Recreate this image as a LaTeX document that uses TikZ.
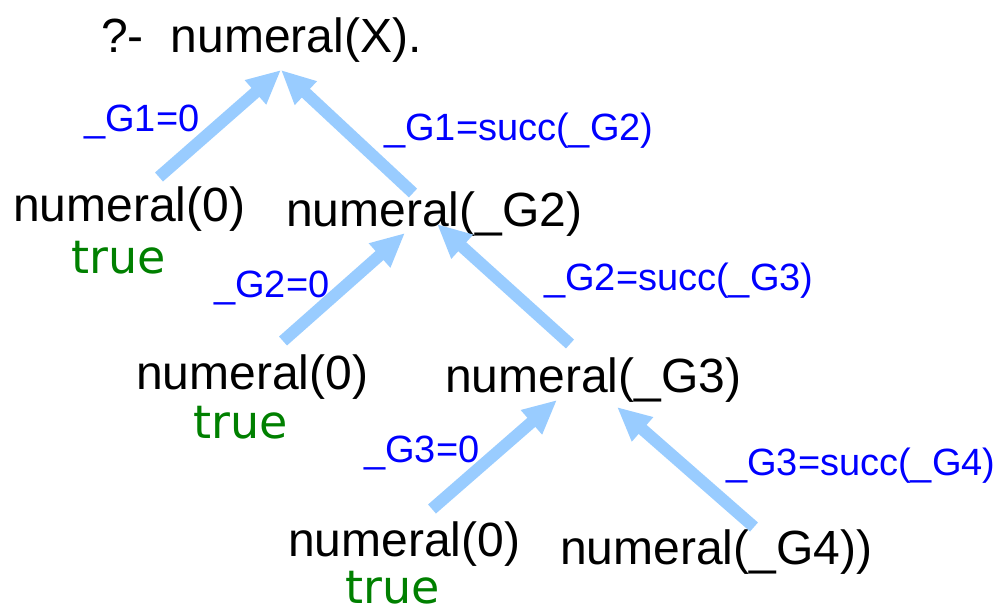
\documentclass[tikz,border=0pt]{standalone}
\usepackage{fontspec}
\setmainfont{Liberation Sans}
\newfontfamily\truefont{DejaVu Sans}
\usetikzlibrary{arrows.meta}
\definecolor{goalblue}{HTML}{0000FF}
\definecolor{okgreen}{HTML}{008000}
\definecolor{linkblue}{HTML}{99CCFF}
\begin{document}
\begin{tikzpicture}[x=1pt,y=-1pt,
  goal/.style={anchor=base west,inner sep=0pt,font=\fontsize{48}{50}\selectfont},
  bind/.style={anchor=base west,inner sep=0pt,text=goalblue,font=\fontsize{38}{40}\selectfont},
  done/.style={anchor=base west,inner sep=0pt,text=okgreen,font=\truefont\fontsize{46}{48}\selectfont},
  link/.style={draw=linkblue,line width=12pt,
    -{Triangle[length=34pt,width=30pt,fill=linkblue]},shorten >=0pt}]
\useasboundingbox (0,0) rectangle (997,607);

% goals of the derivation tree
\node[goal] (q)  at (101,53)  {?-\hspace{27pt}numeral(X).};
\node[goal] (a1) at (13,222)  {numeral(0)};
\node[goal] (b1) at (286,226) {numeral(\_G2)};
\node[goal] (a2) at (136,389) {numeral(0)};
\node[goal] (b2) at (445,392) {numeral(\_G3)};
\node[goal] (a3) at (288,556) {numeral(0)};
\node[goal] (b3) at (560,564) {numeral(\_G4))};

% successful leaves
\node[done] (t1) at (71,273)  {true};
\node[done] (t2) at (193,438) {true};
\node[done] (t3) at (345,603) {true};

% unifications
\node[bind] (u1) at (84,132)  {\_G1=0};
\node[bind] (v1) at (384,141) {\_G1=succ(\_G2)};
\node[bind] (u2) at (214,297) {\_G2=0};
\node[bind] (v2) at (544,290) {\_G2=succ(\_G3)};
\node[bind] (u3) at (364,462) {\_G3=0};
\node[bind] (v3) at (726,475) {\_G3=succ(\_G4)};

% arrow ends
\coordinate (a1o) at (159,177);
\coordinate (b1o) at (413,193);
\coordinate (qi)  at (281,70);
\coordinate (a2o) at (283,341);
\coordinate (b2o) at (570,344);
\coordinate (b1l) at (405,233);
\coordinate (b1r) at (437,224);
\coordinate (a3o) at (432,509);
\coordinate (b3o) at (754,527);
\coordinate (b2l) at (557,400);
\coordinate (b2r) at (617,407);

\draw[link] (a1o) -- (qi);
\draw[link] (b1o) -- (qi);
\draw[link] (a2o) -- (b1l);
\draw[link] (b2o) -- (b1r);
\draw[link] (a3o) -- (b2l);
\draw[link] (b3o) -- (b2r);
\end{tikzpicture}
\end{document}
